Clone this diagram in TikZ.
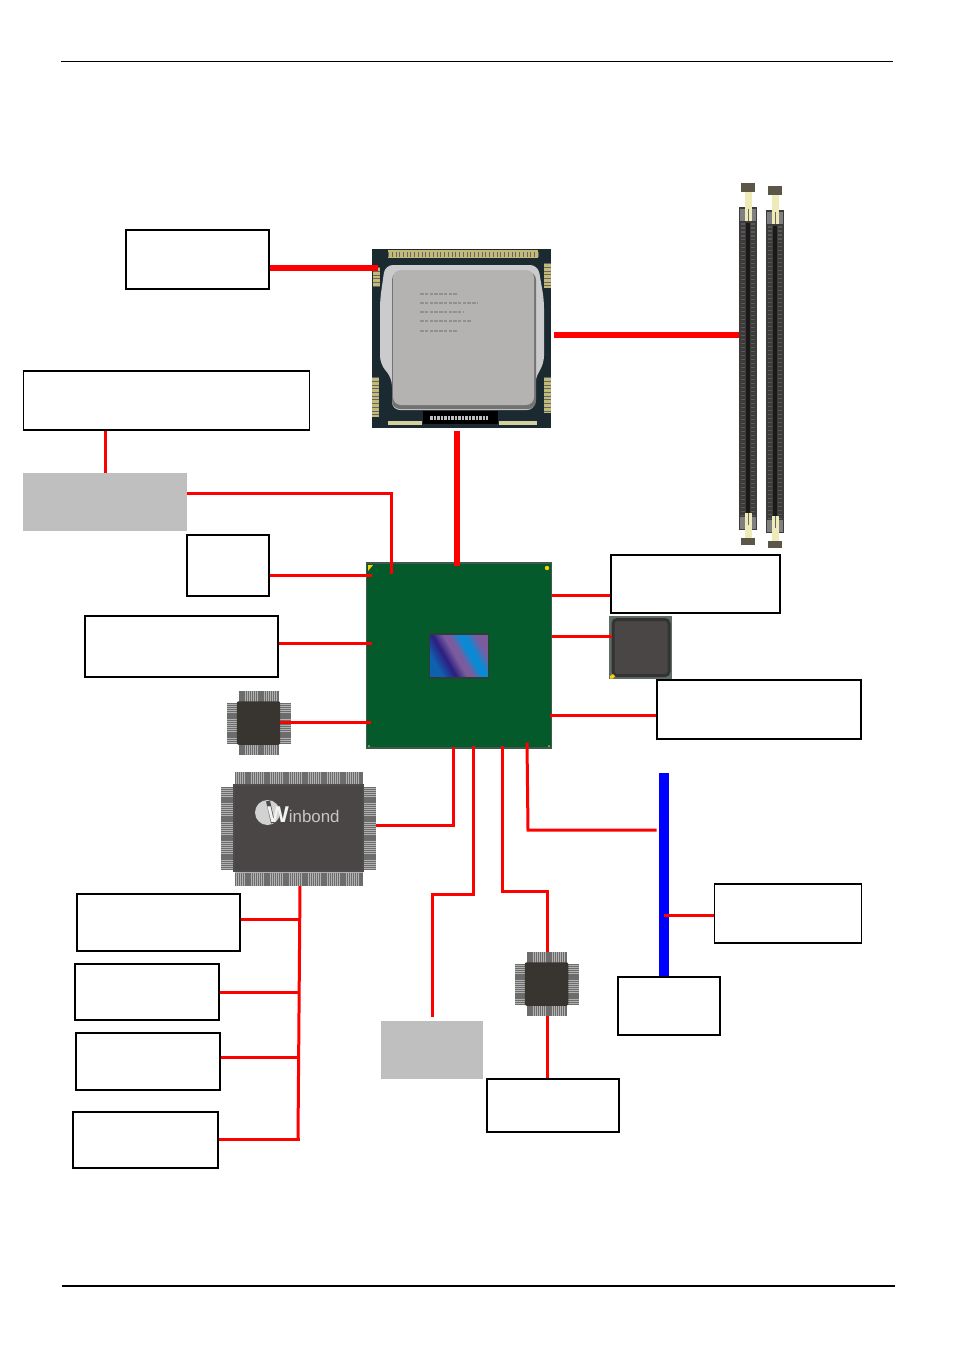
\documentclass[tikz,border=0pt]{standalone}
\usepackage{fontspec}
\setmainfont{Liberation Sans}
\usetikzlibrary{positioning, calc}

\definecolor{busred}{HTML}{FF0000}
\definecolor{busblue}{HTML}{0000FF}
\definecolor{panelgray}{HTML}{BFBFBF}
\definecolor{boardgreen}{HTML}{055A2C}
\definecolor{boardedge}{HTML}{3F5A4A}
\definecolor{chipdark}{HTML}{383430}
\definecolor{chipgray}{HTML}{4A4646}
\definecolor{pingold}{HTML}{C4BA78}
\definecolor{cpubase}{HTML}{1A2A30}
\definecolor{lidsilver}{HTML}{B5B3B1}
\definecolor{rimsilver}{HTML}{CBCBCD}
\definecolor{slotbody}{HTML}{3E3B3B}
\definecolor{latchcap}{HTML}{5B5648}
\definecolor{latchstem}{HTML}{EFEBB8}
\definecolor{dieblue}{HTML}{1060B0}
\definecolor{diedeep}{HTML}{2C1E80}
\definecolor{diepurple}{HTML}{7A5C9E}
\definecolor{diecyan}{HTML}{0A8AD4}

\pgfdeclarehorizontalshading{diestripe}{100bp}{color(0bp)=(dieblue); color(27bp)=(dieblue);
  color(38bp)=(diedeep); color(47bp)=(diepurple); color(52bp)=(diepurple);
  color(59bp)=(diecyan); color(64bp)=(diecyan); color(73bp)=(diepurple); color(100bp)=(diepurple)}

\tikzset{
    blankbox/.style={draw=black, fill=white, line width=0.03cm, rectangle, inner sep=0pt},
    graybox/.style={fill=panelgray, rectangle, inner sep=0pt},
    redline/.style={draw=busred, line width=0.06cm},
    redbus/.style={draw=busred, line width=0.11cm},
    pinrow/.style={draw=gray!85!black, dash pattern=on 0.024cm off 0.014cm},
    chipbody/.style={fill=chipdark, rounded corners=0.04cm, rectangle, inner sep=0pt}
}

% square chip with pins on all four sides
\newcommand{\qfpchip}[3]{
    \fill[gray!60] (#2-20,#3-32) rectangle (#2+20,#3+32);
    \fill[gray!60] (#2-32,#3-20) rectangle (#2+32,#3+20);
    \draw[pinrow, line width=0.24cm] (#2-20,#3-26) -- (#2+20,#3-26);
    \draw[pinrow, line width=0.24cm] (#2-20,#3+26) -- (#2+20,#3+26);
    \draw[pinrow, line width=0.24cm] (#2-26,#3-20) -- (#2-26,#3+20);
    \draw[pinrow, line width=0.24cm] (#2+26,#3-20) -- (#2+26,#3+20);
    \node[chipbody, minimum width=0.87cm, minimum height=0.87cm] (#1) at (#2,#3) {};
}

% memory slot, x and y give the top left of its long body
\newcommand{\dimmslot}[3]{
    \node[rectangle, fill=slotbody, inner sep=0pt, minimum width=0.35cm, minimum height=6.46cm, anchor=north west] (#1) at (#2,#3) {};
    \fill[black!90] (#2+7,#3+16) rectangle (#2+11,#3+308);
    \draw[gray!70!black, line width=0.07cm, dash pattern=on 0.03cm off 0.05cm] (#2+4,#3+16) -- (#2+4,#3+308);
    \draw[gray!70!black, line width=0.07cm, dash pattern=on 0.03cm off 0.05cm] (#2+14,#3+16) -- (#2+14,#3+308);
    \fill[gray] (#2+1,#3+2) rectangle (#2+17,#3+14);
    \fill[gray] (#2+1,#3+310) rectangle (#2+17,#3+322);
    \fill[latchcap] (#2+2,#3-24) rectangle (#2+16,#3-15);
    \fill[latchcap] (#2+2,#3+331) rectangle (#2+16,#3+338);
    \fill[latchstem] (#2+5.5,#3-15) rectangle (#2+12.5,#3+14);
    \fill[latchstem] (#2+5.5,#3+306) rectangle (#2+12.5,#3+331);
    \fill[black!60] (#2+8.5,#3+2) rectangle (#2+10,#3+14);
    \fill[black!60] (#2+8.5,#3+306) rectangle (#2+10,#3+318);
}

\begin{document}
\begin{tikzpicture}[x=0.02cm, y=-0.02cm]
    \useasboundingbox (0,0) rectangle (954,1352);

    % page rules
    \coordinate (headleft) at (61,61);
    \coordinate (headright) at (893,61);
    \coordinate (footleft) at (62,1286);
    \coordinate (footright) at (895,1286);
    \draw[line width=0.02cm] (headleft) -- (headright);
    \draw[line width=0.03cm] (footleft) -- (footright);

    % label boxes
    \node[blankbox, minimum width=2.86cm, minimum height=1.18cm] (cooler) at (197.5,259.5) {};
    \node[blankbox, minimum width=5.72cm, minimum height=1.18cm] (pcibox) at (166.5,400.5) {};
    \node[blankbox, minimum width=1.64cm, minimum height=1.22cm] (smallbox) at (228,565.5) {};
    \node[blankbox, minimum width=3.86cm, minimum height=1.22cm] (lanbox) at (181.5,646.5) {};
    \node[blankbox, minimum width=3.38cm, minimum height=1.16cm] (sataright) at (695.5,584) {};
    \node[blankbox, minimum width=4.08cm, minimum height=1.18cm] (usbright) at (759,709.5) {};
    \node[blankbox, minimum width=2.94cm, minimum height=1.18cm] (slotbox) at (788,913.5) {};
    \node[blankbox, minimum width=2.04cm, minimum height=1.16cm] (slotlow) at (669,1006) {};
    \node[blankbox, minimum width=2.64cm, minimum height=1.06cm] (audiobox) at (553,1105.5) {};
    \node[blankbox, minimum width=3.26cm, minimum height=1.14cm] (sioa) at (158.5,922.5) {};
    \node[blankbox, minimum width=2.88cm, minimum height=1.12cm] (siob) at (147,992) {};
    \node[blankbox, minimum width=2.88cm, minimum height=1.14cm] (sioc) at (148,1061.5) {};
    \node[blankbox, minimum width=2.90cm, minimum height=1.12cm] (siod) at (145.5,1140) {};

    % gray boxes and blue bus
    \node[graybox, minimum width=3.28cm, minimum height=1.16cm] (pcigray) at (105,502) {};
    \node[graybox, minimum width=2.04cm, minimum height=1.16cm] (lowgray) at (432,1050) {};
    \node[rectangle, fill=busblue, inner sep=0pt, minimum width=0.20cm, minimum height=4.06cm] (bluebar) at (664,874.5) {};

    % processor
    \node[rectangle, fill=cpubase, inner sep=0pt, minimum width=3.58cm, minimum height=3.58cm] (cpu) at (461.5,338.5) {};
    \fill[pingold] (388,250) rectangle (538,258);
    \draw[black!60, line width=0.10cm, dash pattern=on 0.015cm off 0.06cm] (388,254) -- (538,254);
    \foreach \px/\pa/\pb in {376/267/287, 547/263/288, 375/377/417, 547/377/413} {
        \fill[pingold] (\px-3,\pa) rectangle (\px+4,\pb);
        \draw[black!60, line width=0.14cm, dash pattern=on 0.015cm off 0.06cm] (\px,\pa) -- (\px,\pb);
    }
    \foreach \pa/\pb in {388/422, 499/537} {
        \fill[pingold!70!white] (\pa,421) rectangle (\pb,425);
    }
    \fill[rimsilver, rounded corners=0.16cm] (385,265) -- (538,265) -- (544,300) -- (544,364) -- (535,378) -- (535,410) -- (392,410) -- (392,378) -- (380,364) -- (380,300) -- cycle;
    \fill[black!55, rounded corners=0.16cm] (392,272) rectangle (536,409);
    \fill[lidsilver, rounded corners=0.16cm] (393,270) rectangle (534,405);
    \foreach \py/\pl in {294/458, 303/478, 312/464, 321/472, 331/458} {
        \draw[black!60, line width=0.035cm, opacity=0.45, dash pattern=on 0.07cm off 0.025cm] (420,\py) -- (\pl,\py);
    }
    \fill[black] (423,411) rectangle (498,424);
    \draw[gray!50, line width=0.08cm, dash pattern=on 0.05cm off 0.02cm] (430,417.5) -- (488,417.5);

    % memory slots
    \dimmslot{dimma}{739}{207}
    \dimmslot{dimmb}{766}{210}

    % chipset
    \node[rectangle, draw=boardedge, fill=boardgreen, line width=0.03cm, inner sep=0pt, minimum width=3.70cm, minimum height=3.70cm] (mch) at (459,655.5) {};
    \node[rectangle, draw=boardedge!70!black, line width=0.03cm, shading=diestripe, shading angle=30, inner sep=0pt, minimum width=1.18cm, minimum height=0.88cm] (die) at (459,656) {};
    \fill[yellow!70!orange] (368,565) -- (373,565) -- (368,571) -- cycle;
    \fill[yellow!70!orange] (547,568) circle[radius=2.2];
    \fill[yellow!40!gray] (369,746) circle[radius=1];
    \fill[yellow!40!gray] (549,746) circle[radius=1];

    % square chip
    \node[rectangle, fill=boardedge!50!gray, inner sep=0pt, minimum width=1.26cm, minimum height=1.26cm] (lanchip) at (640.5,647.5) {};
    \node[rectangle, draw=black!80, fill=chipgray, line width=0.06cm, rounded corners=0.08cm, inner sep=0pt, minimum width=1.12cm, minimum height=1.12cm] (lancore) at (641,647.5) {};
    \fill[yellow!70!orange] (610,676) -- (613,674) -- (615,676) -- (613,678.5) -- (610,678.5) -- cycle;

    % small chips
    \qfpchip{codec}{258.5}{723}
    \qfpchip{audiochip}{546.5}{984}

    % super io
    \fill[gray!60] (235,772) rectangle (363,886);
    \fill[gray!60] (221,787) rectangle (376,870);
    \draw[pinrow, line width=0.26cm] (235,778.5) -- (363,778.5);
    \draw[pinrow, line width=0.26cm] (235,879.5) -- (363,879.5);
    \draw[pinrow, line width=0.26cm] (227.5,787) -- (227.5,870);
    \draw[pinrow, line width=0.26cm] (369.5,787) -- (369.5,870);
    \node[rectangle, draw=black!70, fill=chipgray, line width=0.03cm, inner sep=0pt, minimum width=2.58cm, minimum height=1.72cm] (winbond) at (298.5,828) {};
    \fill[gray!35] (267.5,812.5) circle[radius=12.5];
    \draw[black!70, line width=0.08cm] (268,801) -- (273,823);
    \node[anchor=base west, inner sep=0pt, text=gray!45] (brand) at (267,822) {{\fontsize{13}{13}\bfseries\selectfont\textcolor{gray!10}{W}}\fontsize{9.6}{10}\selectfont inbond};

    % bus ends
    \coordinate (bustop) at (300,886);
    \coordinate (busend) at (298,1139);

    % thick links
    \draw[redbus] (cooler.east |- 0,268) -- ([xshift=0.12cm]cpu.west |- 0,268);
    \draw[redbus, line width=0.12cm] ([xshift=0.06cm]cpu.east |- 0,335) -- (dimma.west |- 0,335);
    \draw[redbus, line width=0.13cm] ([yshift=-0.06cm]cpu.south -| 457,0) -- ([yshift=-0.08cm]mch.north -| 457,0);

    % chipset links
    \draw[redline] (pcibox.south -| pcigray.north) -- (pcigray.north);
    \draw[redline] (pcigray.east |- 0,493) -- (391,493) -- ([yshift=-0.24cm]mch.north -| 391,0);
    \draw[redline] (smallbox.east |- 0,575) -- ([xshift=0.12cm]mch.west |- 0,575);
    \draw[redline] (lanbox.east |- 0,643) -- ([xshift=0.12cm]mch.west |- 0,643);
    \draw[redline] ([xshift=-0.02cm]codec.east |- 0,722) -- ([xshift=0.10cm]mch.west |- 0,722);
    \draw[redline] (mch.east |- 0,595) -- (sataright.west |- 0,595);
    \draw[redline] (mch.east |- 0,636) -- (lancore.west |- 0,636);
    \draw[redline] ([xshift=-0.04cm]mch.east |- 0,715.5) -- (usbright.west |- 0,715.5);
    \draw[redline] ([xshift=0.24cm]winbond.east |- 0,825) -- (453,825) -- ([yshift=0.04cm]mch.south -| 453,0);
    \draw[redline] ([yshift=0.06cm]mch.south -| 473,0) -- (473,894) -- (432,894) -- ([yshift=0.08cm]lowgray.north);
    \draw[redline] ([yshift=0.06cm]mch.south -| 502,0) -- (502,891) -- (547,891) -- ([yshift=0.20cm]audiochip.north -| 547,0);
    \draw[redline] ([yshift=0.12cm]mch.south -| 527,0) -- (528,830) -- ([xshift=-0.04cm]bluebar.west |- 0,830);
    \draw[redline] ([yshift=-0.20cm]audiochip.south -| 547,0) -- (audiobox.north -| 547,0);
    \draw[redline] (bluebar.center |- 0,915) -- (slotbox.west |- 0,915);

    % super io bus
    \draw[redline] (bustop) -- (busend);
    \draw[redline] (sioa.east |- 0,919) -- (bustop |- 0,919);
    \draw[redline] (siob.east |- 0,992) -- (busend |- 0,992);
    \draw[redline] (sioc.east |- 0,1057) -- (busend |- 0,1057);
    \draw[redline] (siod.east |- 0,1139) -- (bustop |- 0,1139);
\end{tikzpicture}
\end{document}
